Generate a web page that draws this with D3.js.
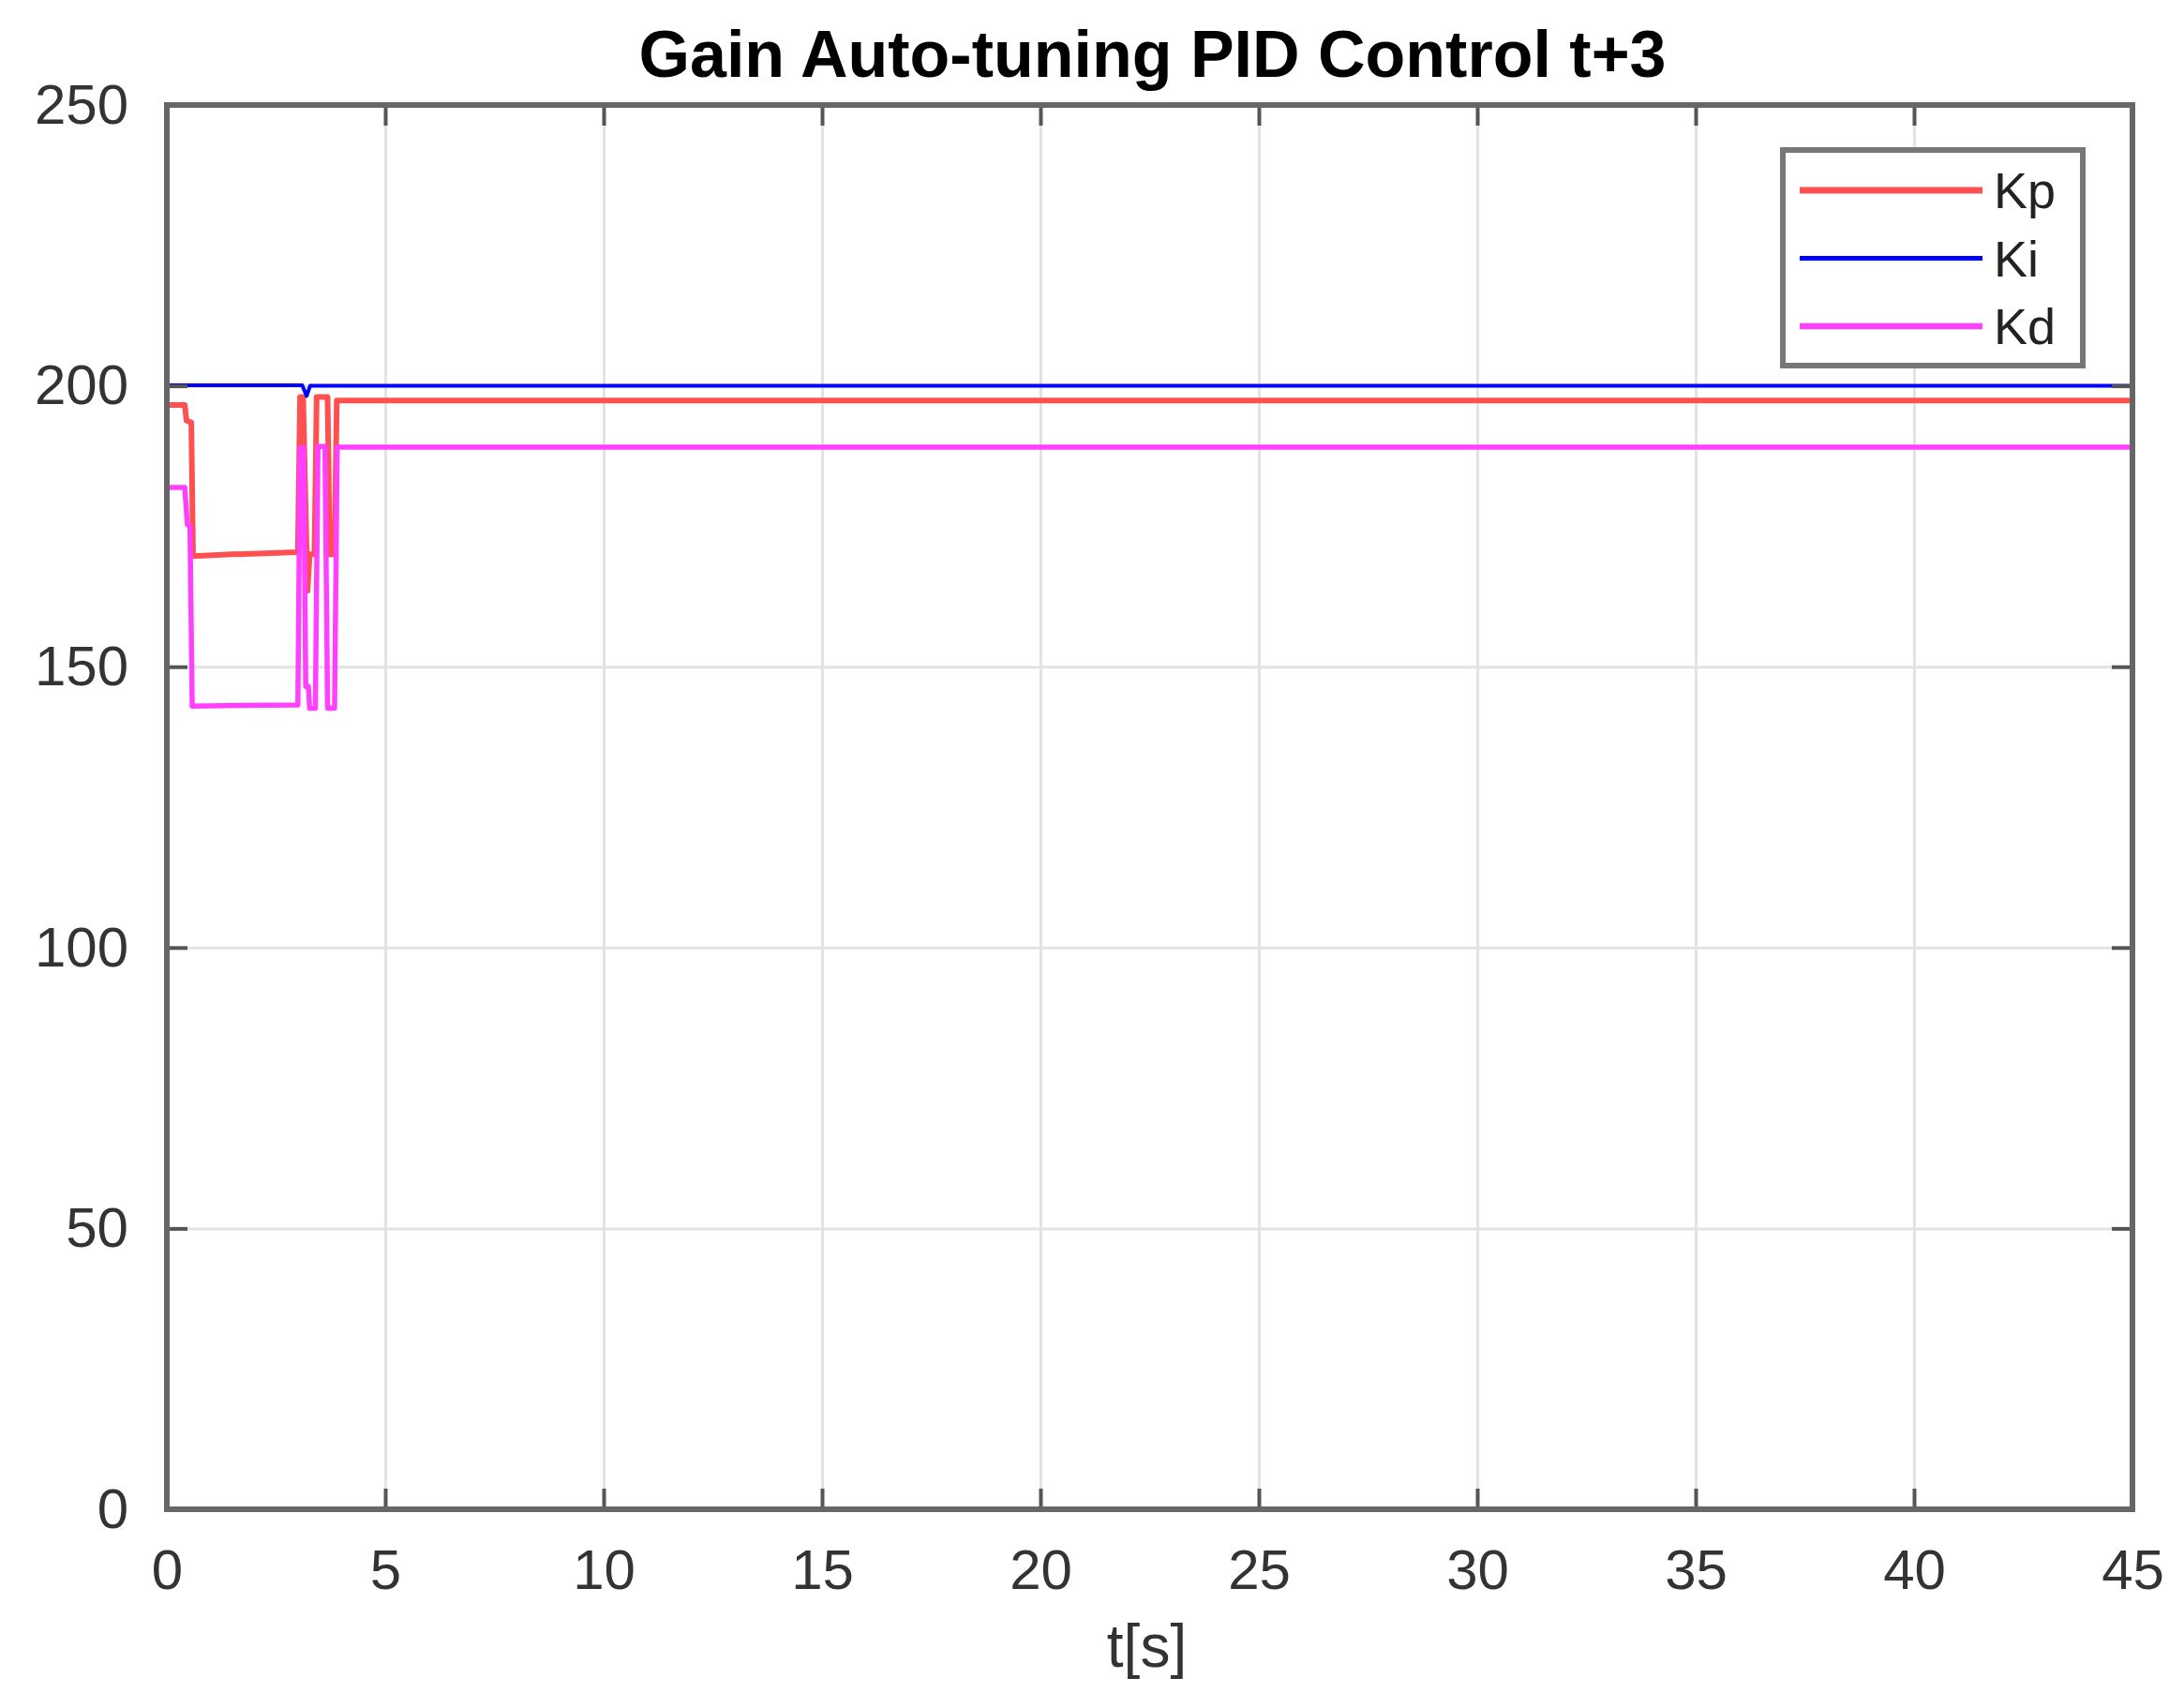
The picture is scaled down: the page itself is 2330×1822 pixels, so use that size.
<!DOCTYPE html>
<head>
<meta charset="UTF-8">
<style>
body { margin: 0; background: #fff; }
svg { font-family: "Liberation Sans", Arial, sans-serif; }
.tick text { fill: #333; font-size: 60px; }
.grid line { stroke: #e3e3e3; stroke-width: 3; }
.ticks line { stroke: #555; stroke-width: 4; }
</style>
</head>
<svg width="2330" height="1822"></svg>
<script src="https://d3js.org/d3.v7.min.js"></script>
<script>
// values: [t, gain]
var kp = [[0,196.6],[0.41,196.6],[0.45,193.8],[0.56,193.5],[0.6,169.7],[1.5,170.0],[3.0,170.4],[3.05,198.0],
    [3.12,198.0],[3.22,163.5],[3.27,170],[3.38,170],[3.43,198],[3.68,198],[3.73,170],[3.84,170],[3.89,197.4],[45,197.4]];
var ki = [[0,200.1],[3.1,200.1],[3.2,198.2],[3.28,200],[45,200]];
var kd = [[0,181.9],[0.41,181.9],[0.47,175.3],[0.53,175],[0.58,143],[3.0,143.2],[3.05,189],[3.13,189],[3.18,146.5],
    [3.24,146.5],[3.27,142.6],[3.4,142.6],[3.46,189.2],[3.62,189.2],[3.68,142.6],[3.84,142.6],[3.9,189.1],[45,189.1]];
var xTicks = [0,5,10,15,20,25,30,35,40,45];
var yTicks = [0,50,100,150,200,250];
var names = ["Kp","Ki","Kd"];
var colors = ["#ff5050","#0000ff","#ff40ff"];
var widths = [6,4,5.5];

var svg = d3.select("svg");
var pLeft = 178, pRight = 2275, pTop = 112, pBottom = 1610;
var x = d3.scaleLinear().domain([0,45]).range([pLeft,pRight]);
var y = d3.scaleLinear().domain([0,250]).range([pBottom,pTop]);
var tl = 22;

// grid
svg.append("g").attr("class","grid").attr("transform","translate(0,"+pBottom+")")
    .call(d3.axisBottom(x).tickValues(xTicks).tickSize(-(pBottom-pTop)).tickFormat(""))
    .call(function(g){ g.select(".domain").remove(); });
svg.append("g").attr("class","grid").attr("transform","translate("+pLeft+",0)")
    .call(d3.axisLeft(y).tickValues(yTicks).tickSize(-(pRight-pLeft)).tickFormat(""))
    .call(function(g){ g.select(".domain").remove(); });

// lines
var line = d3.line().x(function(d){ return x(d[0]); }).y(function(d){ return y(d[1]); });
[kp,ki,kd].forEach(function(s,i){
    svg.append("path").datum(s)
        .attr("fill","none")
        .attr("stroke",colors[i])
        .attr("stroke-width",widths[i])
        .attr("stroke-linejoin","round")
        .attr("d",line);
});

// axes with inward ticks
svg.append("g").attr("class","ticks").attr("transform","translate(0,"+pBottom+")")
    .call(d3.axisBottom(x).tickValues(xTicks).tickSize(-tl).tickPadding(42))
    .call(function(g){ g.select(".domain").remove(); g.selectAll("text").attr("font-size",null).attr("font-family",null); });
svg.append("g").attr("class","ticks").attr("transform","translate("+pLeft+",0)")
    .call(d3.axisLeft(y).tickValues(yTicks).tickSize(-tl).tickPadding(41))
    .call(function(g){ g.select(".domain").remove(); g.selectAll("text").attr("font-size",null).attr("font-family",null); });
svg.append("g").attr("class","ticks").attr("transform","translate(0,"+pTop+")")
    .call(d3.axisTop(x).tickValues(xTicks).tickSize(-tl).tickFormat(""))
    .call(function(g){ g.select(".domain").remove(); });
svg.append("g").attr("class","ticks").attr("transform","translate("+pRight+",0)")
    .call(d3.axisRight(y).tickValues(yTicks).tickSize(-tl).tickFormat(""))
    .call(function(g){ g.select(".domain").remove(); });

svg.append("rect")
    .attr("x",pLeft).attr("y",pTop)
    .attr("width",pRight-pLeft).attr("height",pBottom-pTop)
    .attr("fill","none").attr("stroke","#666").attr("stroke-width",6);

// title and label
svg.append("text")
    .attr("x",(pLeft+pRight)/2+3).attr("y",82)
    .attr("text-anchor","middle")
    .attr("font-size",70).attr("font-weight","bold").attr("fill","#000")
    .text("Gain Auto-tuning PID Control t+3");
svg.append("text")
    .attr("x",(pLeft+pRight)/2-3).attr("y",1778)
    .attr("text-anchor","middle")
    .attr("font-size",64).attr("fill","#333")
    .text("t[s]");

// legend
var lg = svg.append("g");
lg.append("rect").attr("x",1902).attr("y",160).attr("width",320).attr("height",230)
    .attr("fill","#fff").attr("stroke","#777").attr("stroke-width",6);
names.forEach(function(n,i){
    var yy = 203 + i*72.5;
    lg.append("line").attr("x1",1920).attr("x2",2115).attr("y1",yy).attr("y2",yy)
        .attr("stroke",colors[i]).attr("stroke-width",widths[i]+1);
    lg.append("text").attr("x",2127).attr("y",yy).attr("dy","0.36em")
        .attr("font-size",54).attr("fill","#222").text(n);
});
</script>
